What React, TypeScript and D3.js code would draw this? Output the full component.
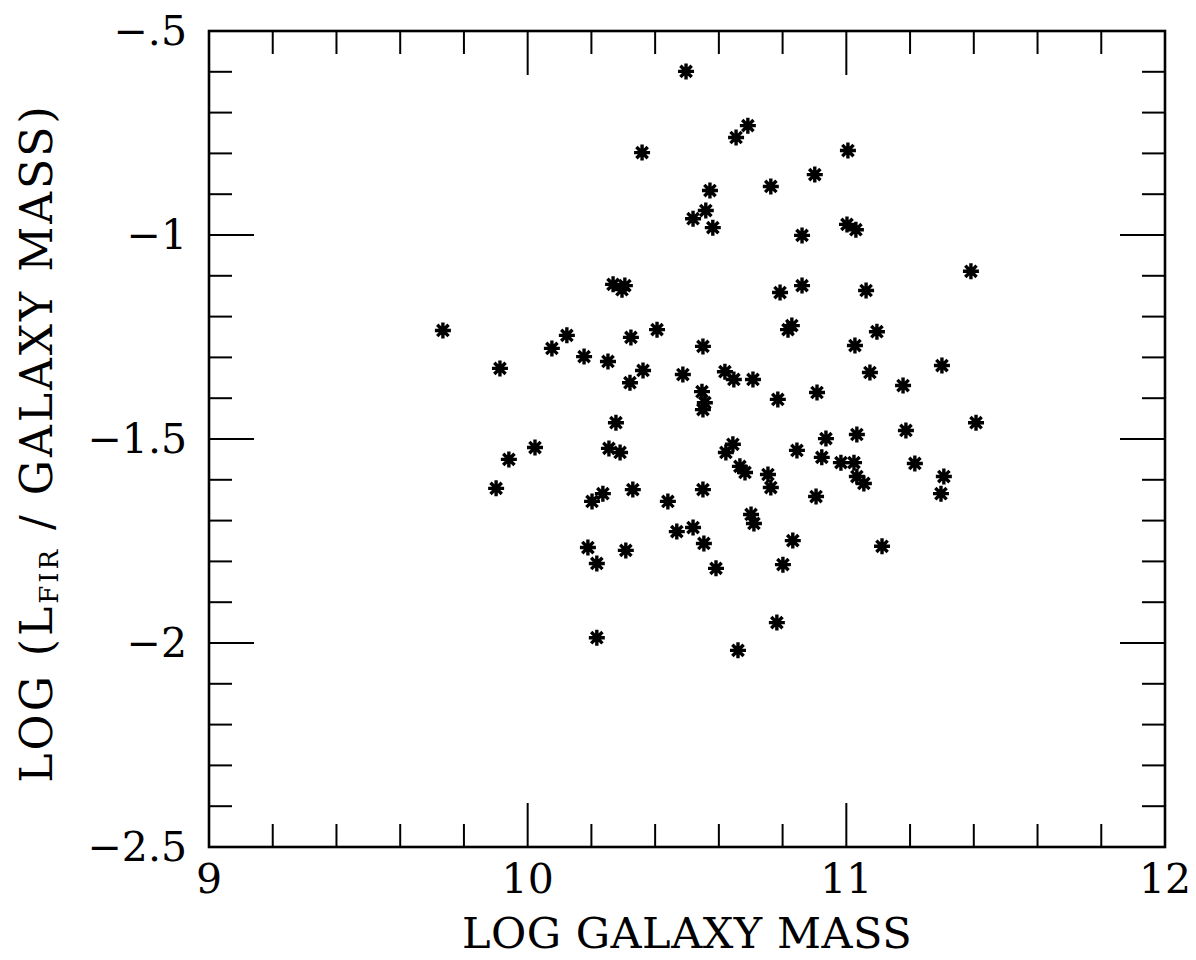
import React, { useEffect, useRef } from "react";
import * as d3 from "d3";

// log galaxy mass (x) and log(L_FIR / galaxy mass) (y)
const galaxyMass = [
  10.497, 10.691, 10.654, 10.359, 11.005, 10.763, 10.901, 10.572, 10.559, 10.519,
  10.581, 11.002, 11.03, 10.861, 11.391, 10.268, 10.305, 10.296, 10.792, 10.861,
  11.062, 9.734, 10.123, 10.324, 10.406, 10.817, 10.829, 11.096, 10.076, 10.55,
  11.027, 10.177, 10.252, 10.362, 10.487, 10.619, 10.647, 10.707, 11.074, 11.3,
  9.913, 10.321, 11.178, 10.547, 10.556, 10.55, 10.785, 10.908, 10.277, 11.407,
  11.033, 11.187, 10.936, 10.023, 10.255, 10.29, 10.644, 10.622, 10.845, 10.923,
  9.941, 10.666, 10.682, 10.754, 10.763, 10.983, 11.024, 11.033, 11.055, 11.215,
  11.306, 11.297, 10.905, 9.901, 10.202, 10.236, 10.33, 10.44, 10.55, 10.701,
  10.71, 10.468, 10.519, 10.553, 10.832, 10.189, 10.308, 10.217, 10.591, 10.801,
  11.112, 10.782, 10.66, 10.217,
];
const firRatio = [
  -0.599, -0.732, -0.761, -0.798, -0.793, -0.881, -0.852, -0.891, -0.94, -0.96,
  -0.982, -0.974, -0.987, -1.001, -1.089, -1.121, -1.124, -1.134, -1.141, -1.124,
  -1.136, -1.234, -1.246, -1.251, -1.232, -1.232, -1.222, -1.237, -1.278, -1.273,
  -1.271, -1.298, -1.31, -1.332, -1.342, -1.335, -1.354, -1.354, -1.337, -1.32,
  -1.327, -1.362, -1.369, -1.384, -1.411, -1.428, -1.403, -1.386, -1.46, -1.46,
  -1.489, -1.479, -1.499, -1.521, -1.523, -1.533, -1.513, -1.533, -1.528, -1.545,
  -1.55, -1.567, -1.582, -1.587, -1.619, -1.558, -1.558, -1.592, -1.609, -1.56,
  -1.592, -1.634, -1.641, -1.621, -1.653, -1.634, -1.624, -1.653, -1.624, -1.685,
  -1.707, -1.727, -1.717, -1.756, -1.749, -1.766, -1.773, -1.805, -1.817, -1.808,
  -1.763, -1.95, -2.018, -1.987,
];

const xTicks = [9, 10, 11, 12];
const xTickLabels = ["9", "10", "11", "12"];
const yTicks = [-0.5, -1, -1.5, -2, -2.5];
const yTickLabels = ["\u2212.5", "\u22121", "\u22121.5", "\u22122", "\u22122.5"];

const FONT = "'DejaVu Serif', 'Liberation Serif', serif";

export default function App() {
  const ref = useRef<SVGSVGElement>(null);

  useEffect(() => {
    const svg = d3.select(ref.current);
    svg.selectAll("*").remove();

    const left = 209, right = 1165, top = 31, bottom = 847;
    const x = d3.scaleLinear().domain([9, 12]).range([left, right]);
    const y = d3.scaleLinear().domain([-2.5, -0.5]).range([bottom, top]);

    const g = svg.append("g");

    // frame
    g.append("rect")
      .attr("x", left)
      .attr("y", top)
      .attr("width", right - left)
      .attr("height", bottom - top)
      .attr("fill", "none")
      .attr("stroke", "#000")
      .attr("stroke-width", 2.6);

    // x ticks every 0.2, longer at integers, on bottom and top
    const xMinor = d3.range(1, 15).map((i) => 9 + i * 0.2);
    const isInt = (v: number) => Math.abs(v - Math.round(v)) < 1e-6;
    const xLen = (v: number) => (isInt(v) ? 44 : 23);
    g.selectAll(".xtick-b")
      .data(xMinor)
      .join("line")
      .attr("x1", (d) => x(d))
      .attr("x2", (d) => x(d))
      .attr("y1", bottom)
      .attr("y2", (d) => bottom - xLen(d))
      .attr("stroke", "#000")
      .attr("stroke-width", 2);
    g.selectAll(".xtick-t")
      .data(xMinor)
      .join("line")
      .attr("x1", (d) => x(d))
      .attr("x2", (d) => x(d))
      .attr("y1", top)
      .attr("y2", (d) => top + xLen(d))
      .attr("stroke", "#000")
      .attr("stroke-width", 2);

    // y ticks every 0.1, longer at each 0.5, on left and right
    const yMinor = d3.range(1, 20).map((i) => -2.5 + i * 0.1);
    const isHalf = (v: number) => Math.abs(v * 2 - Math.round(v * 2)) < 1e-6;
    const yLen = (v: number) => (isHalf(v) ? 45 : 23);
    g.selectAll(".ytick-l")
      .data(yMinor)
      .join("line")
      .attr("x1", left)
      .attr("x2", (d) => left + yLen(d))
      .attr("y1", (d) => y(d))
      .attr("y2", (d) => y(d))
      .attr("stroke", "#000")
      .attr("stroke-width", 2);
    g.selectAll(".ytick-r")
      .data(yMinor)
      .join("line")
      .attr("x1", right)
      .attr("x2", (d) => right - yLen(d))
      .attr("y1", (d) => y(d))
      .attr("y2", (d) => y(d))
      .attr("stroke", "#000")
      .attr("stroke-width", 2);

    // tick labels
    g.selectAll(".xlab")
      .data(xTicks)
      .join("text")
      .attr("x", (d) => x(d))
      .attr("y", bottom + 46)
      .attr("text-anchor", "middle")
      .attr("font-family", FONT)
      .attr("font-size", 41)
      .text((d, i) => xTickLabels[i]);

    g.selectAll(".ylab")
      .data(yTicks)
      .join("text")
      .attr("x", left - 22)
      .attr("y", (d) => y(d) + 14)
      .attr("text-anchor", "end")
      .attr("font-family", FONT)
      .attr("font-size", 41)
      .text((d, i) => yTickLabels[i]);

    // axis titles
    svg
      .append("text")
      .attr("x", (left + right) / 2)
      .attr("y", 948)
      .attr("text-anchor", "middle")
      .attr("font-family", FONT)
      .attr("font-size", 43)
      .attr("letter-spacing", 0.5)
      .text("LOG GALAXY MASS");

    const yt = svg
      .append("text")
      .attr("transform", `translate(52, ${(top + bottom) / 2 + 4}) rotate(-90)`)
      .attr("text-anchor", "middle")
      .attr("font-family", FONT)
      .attr("font-size", 44)
      .attr("letter-spacing", 3);
    yt.append("tspan").text("LOG (L");
    yt.append("tspan").attr("font-size", 26).attr("dy", 6).text("FIR");
    yt.append("tspan").attr("dy", -6).text(" / GALAXY MASS)");

    // asterisk markers
    const pts = galaxyMass.map((m, i) => [m, firRatio[i]]);
    const r = 8;
    const star = [0, 45, 90, 135]
      .map((a) => {
        const dx = r * Math.cos((a * Math.PI) / 180);
        const dy = r * Math.sin((a * Math.PI) / 180);
        return `M${-dx},${-dy}L${dx},${dy}`;
      })
      .join("");
    g.selectAll(".pt")
      .data(pts)
      .join("path")
      .attr("class", "pt")
      .attr("transform", (d) => `translate(${x(d[0])},${y(d[1])})`)
      .attr("d", star)
      .attr("fill", "none")
      .attr("stroke", "#000")
      .attr("stroke-width", 3.4);
  }, []);

  return (
    <svg
      ref={ref}
      width={1196}
      height={960}
      style={{ position: "absolute", left: 0, top: 0, background: "#fff" }}
    />
  );
}
